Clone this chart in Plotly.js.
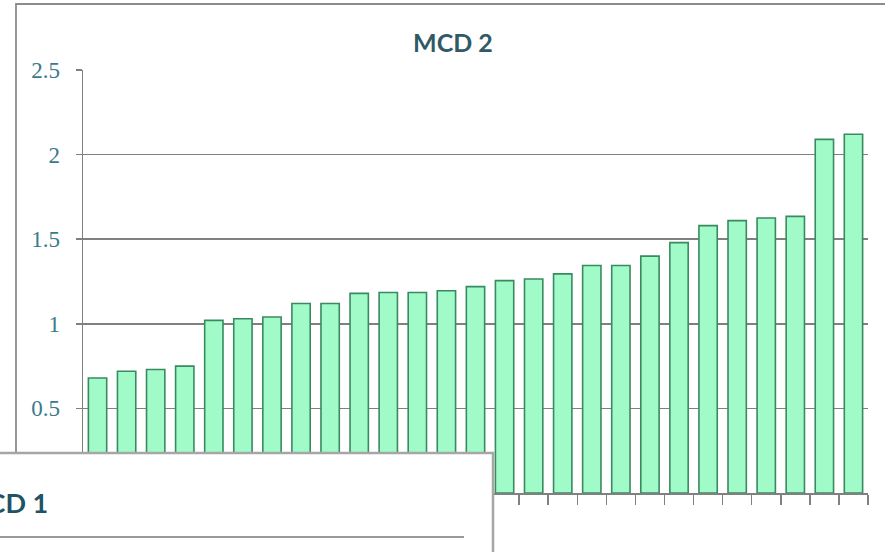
<!DOCTYPE html>
<html>
<head>
<meta charset="utf-8">
<script src="https://cdn.plot.ly/plotly-3.0.1.min.js"></script>
<style>html,body{margin:0;padding:0;background:#fff;}#chart{width:885px;height:552px;}</style>
</head>
<body>
<div id="chart"></div>
<script>
// Data (MCD 2 chart)
var categories = ["1","2","3","4","5","6","7","8","9","10","11","12","13","14","15","16","17","18","19","20","21","22","23","24","25","26","27"];
var values = [0.68,0.72,0.73,0.75,1.02,1.03,1.04,1.12,1.12,1.18,1.185,1.185,1.195,1.22,1.255,1.265,1.295,1.345,1.345,1.40,1.48,1.58,1.61,1.625,1.635,2.09,2.12];
var yTickVals = [0,0.5,1,1.5,2,2.5];
var yTickText = ["0","0.5","1","1.5","2","2.5"];
var mainTitle = "MCD 2";
var overlayTitle = "MCD 1";

var W = 885, H = 552;
function px(x){return x / W;}
function py(y){return 1 - y / H;}

var trace = {
  type: "bar",
  x: categories,
  y: values,
  marker: {color: "#a0fbc9", line: {color: "#3a8a60", width: 1.6}},
  hoverinfo: "y"
};

var layout = {
  width: W, height: H,
  margin: {l: 0, r: 0, t: 0, b: 0},
  paper_bgcolor: "#ffffff",
  plot_bgcolor: "#ffffff",
  showlegend: false,
  bargap: 0.37,
  xaxis: {
    domain: [px(83), px(868)],
    type: "category",
    showticklabels: false,
    showgrid: false,
    zeroline: false,
    showline: true, linecolor: "#808080", linewidth: 1.5,
    ticks: "outside", ticklen: 10, tickcolor: "#808080", tickwidth: 1.5,
    tickson: "boundaries"
  },
  yaxis: {
    domain: [py(493), py(70)],
    range: [0, 2.5],
    tickvals: yTickVals,
    ticktext: yTickText,
    showgrid: true, gridcolor: "#808080", gridwidth: 1.5,
    zeroline: false,
    showline: true, linecolor: "#808080", linewidth: 1.5,
    ticks: "outside", ticklen: 6, tickcolor: "#808080", tickwidth: 1.5,
    ticklabelstandoff: 11,
    tickfont: {family: "Liberation Serif, serif", size: 23, color: "#3a7a8c"}
  },
  shapes: [
    // outer border of the MCD 2 chart
    {type: "rect", xref: "paper", yref: "paper", x0: px(16), x1: px(900), y0: py(600), y1: py(4),
     line: {color: "#8c8c8c", width: 1.8}, fillcolor: "rgba(0,0,0,0)", layer: "below"},
    // overlapping MCD 1 chart box
    {type: "rect", xref: "paper", yref: "paper", x0: px(-20), x1: px(493), y0: py(600), y1: py(453),
     line: {color: "#a6a6a6", width: 2.5}, fillcolor: "#ffffff", layer: "above"},
    // gridline inside MCD 1 chart
    {type: "line", xref: "paper", yref: "paper", x0: px(-20), x1: px(464), y0: py(537), y1: py(537),
     line: {color: "#9a9a9a", width: 1.8}, layer: "above"}
  ],
  annotations: [
    {text: "<b>" + mainTitle + "</b>", xref: "paper", yref: "paper", x: px(453), y: py(42),
     xanchor: "center", yanchor: "middle", showarrow: false,
     font: {family: "Lato, Open Sans, sans-serif", size: 25, color: "#305a66"}},
    {text: "<b>" + overlayTitle + "</b>", xref: "paper", yref: "paper", x: px(50), y: py(502),
     xanchor: "right", yanchor: "middle", showarrow: false,
     font: {family: "Lato, Open Sans, sans-serif", size: 27, color: "#1f5366"}}
  ]
};

Plotly.newPlot("chart", [trace], layout, {displayModeBar: false, staticPlot: true});
</script>
</body>
</html>
